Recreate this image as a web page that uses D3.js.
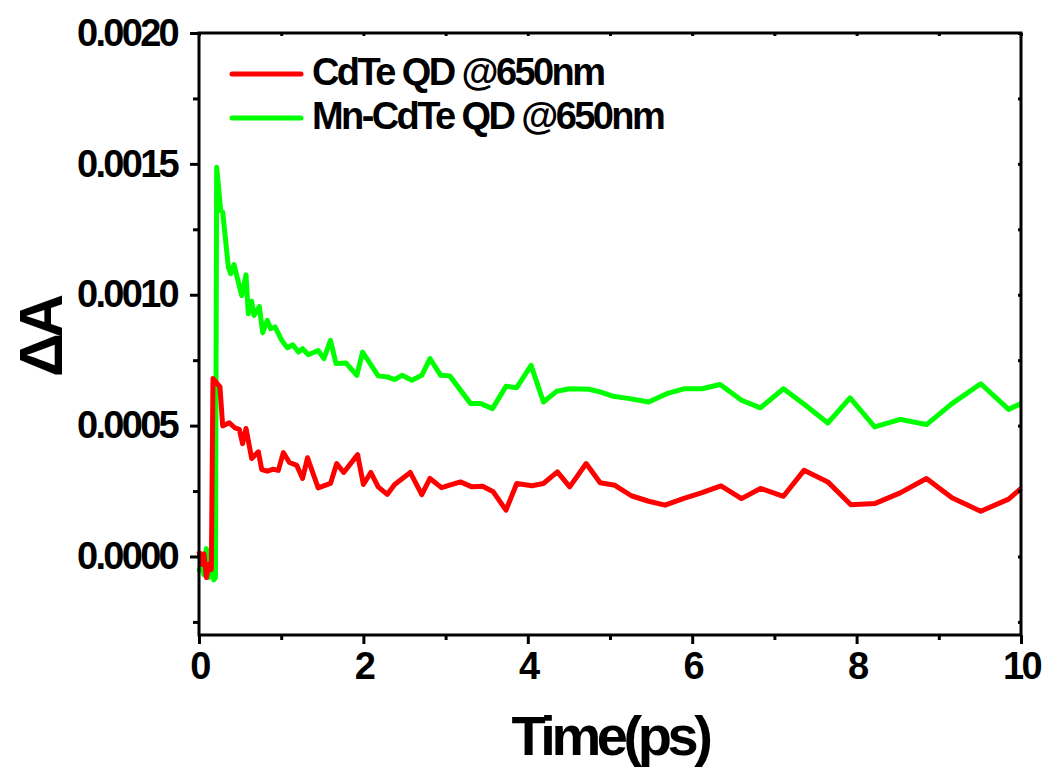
<!DOCTYPE html>
<html lang="en">
<head>
	<meta charset="utf-8">
	<title>Transient absorption</title>
	<script src="https://d3js.org/d3.v7.min.js"></script>
	<style>
		body { margin: 0; background: #fff; }
		text { font-family: "Liberation Sans", Arial, sans-serif; font-weight: bold; }
	</style>
</head>
<body>
	<script>
		// series names and colours
		var seriesNames = ["CdTe QD @650nm", "Mn-CdTe QD @650nm"];
		var seriesColors = ["#ff0000", "#00ff00"];

		// time (ps) and dA
		var cdteTime = [0.0, 0.03, 0.06, 0.09, 0.12, 0.15, 0.17, 0.255, 0.288, 0.369, 0.438, 0.49, 0.53, 0.572, 0.641, 0.722, 0.763,
			0.831, 0.896, 0.965, 1.026, 1.10, 1.19, 1.26, 1.32, 1.45, 1.60, 1.675, 1.76, 1.93, 2.0, 2.09, 2.18, 2.29, 2.38,
			2.57, 2.71, 2.81, 2.95, 3.18, 3.32, 3.45, 3.58, 3.735, 3.865, 4.05, 4.19, 4.36, 4.51, 4.71, 4.88, 5.06, 5.26,
			5.47, 5.67, 5.89, 6.12, 6.35, 6.60, 6.83, 7.11, 7.36, 7.65, 7.93, 8.22, 8.53, 8.85, 9.16, 9.51, 9.85, 10.0];
		var cdteValue = [0.00002, -0.00003, 0.00001, -0.00008, -0.00003, -0.00005, 0.00068, 0.000648, 0.000499, 0.000511, 0.000491, 0.000486, 0.000431, 0.000489, 0.000374, 0.0004, 0.000332,
			0.000326, 0.000333, 0.000329, 0.000397, 0.000359, 0.000348, 0.000298, 0.000377, 0.000262, 0.000279, 0.000355, 0.000321, 0.000389, 0.000275, 0.000321, 0.000266, 0.000237, 0.000275,
			0.000321, 0.000236, 0.000298, 0.000263, 0.000285, 0.000266, 0.000268, 0.000247, 0.000177, 0.000279, 0.00027, 0.000279, 0.000323, 0.000266, 0.000355, 0.000282, 0.000272, 0.000232,
			0.000211, 0.000196, 0.000221, 0.000244, 0.00027, 0.000221, 0.00026, 0.00023, 0.000329, 0.000285, 0.000198, 0.000202, 0.000243, 0.000298, 0.000224, 0.000173, 0.000219, 0.00026];

		var mnTime = [0.0, 0.03, 0.06, 0.09, 0.12, 0.15, 0.18, 0.2, 0.215, 0.264, 0.288, 0.357, 0.385, 0.426, 0.52, 0.572, 0.6, 0.641, 0.669, 0.734,
			0.775, 0.831, 0.872, 0.925, 1.006, 1.075, 1.14, 1.21, 1.26, 1.33, 1.45, 1.52, 1.60, 1.667, 1.79, 1.92, 1.99, 2.18,
			2.29, 2.38, 2.47, 2.59, 2.71, 2.81, 2.94, 3.05, 3.305, 3.43, 3.57, 3.735, 3.865, 4.04, 4.19, 4.35, 4.51, 4.74,
			4.88, 5.04, 5.24, 5.47, 5.69, 5.91, 6.12, 6.34, 6.60, 6.83, 7.11, 7.37, 7.65, 7.92, 8.22, 8.53, 8.85, 9.16,
			9.51, 9.85, 10.0];
		var mnValue = [-0.00006, -0.00002, -0.00007, 0.00003, -0.00008, 0.00001, -0.00009, -0.00008, 0.001487, 0.001322, 0.001316, 0.001106, 0.00108, 0.001115, 0.000997, 0.001076, 0.000927, 0.000975, 0.000921, 0.000955,
			0.000855, 0.000902, 0.00087, 0.000877, 0.000826, 0.000797, 0.000809, 0.000781, 0.000794, 0.000771, 0.000787, 0.000756, 0.000826, 0.000737, 0.000739, 0.000692, 0.000781, 0.00069,
			0.000686, 0.000676, 0.000692, 0.000673, 0.000692, 0.000756, 0.000692, 0.00069, 0.000584, 0.000584, 0.000565, 0.00065, 0.000645, 0.00073, 0.00059, 0.000631, 0.000641, 0.000639,
			0.000629, 0.000612, 0.000603, 0.00059, 0.000622, 0.000641, 0.000641, 0.000657, 0.000597, 0.000568, 0.000641, 0.00058, 0.00051, 0.000606, 0.000495, 0.000524, 0.000504, 0.000584,
			0.00066, 0.000562, 0.000584];

		// axis ticks
		var xTicks = [0, 2, 4, 6, 8, 10];
		var xMinor = [1, 3, 5, 7, 9];
		var yTicks = [0, 0.0005, 0.001, 0.0015, 0.002];
		var yMinor = [-0.00025, 0.00025, 0.00075, 0.00125, 0.00175];

		var W = 1045, H = 769;
		var margin = {top: 33, right: 24, bottom: 134, left: 199};

		var svg = d3.select("body").append("svg")
			.attr("width", W)
			.attr("height", H);

		var x = d3.scaleLinear().domain([0, 10]).range([margin.left, W - margin.right]);
		var y = d3.scaleLinear().domain([-0.0003, 0.002]).range([H - margin.bottom, margin.top]);

		var series = [
			{name: seriesNames[0], color: seriesColors[0], pts: cdteTime.map(function(t, i) { return [t, cdteValue[i]]; })},
			{name: seriesNames[1], color: seriesColors[1], pts: mnTime.map(function(t, i) { return [t, mnValue[i]]; })}
		];

		var line = d3.line()
			.x(function(d) { return x(d[0]); })
			.y(function(d) { return y(d[1]); });

		// data lines (green first so red sits on top near zero)
		svg.selectAll("path.series")
			.data([series[1], series[0]])
			.enter()
			.append("path")
			.attr("class", "series")
			.attr("d", function(d) { return line(d.pts); })
			.attr("fill", "none")
			.attr("stroke", function(d) { return d.color; })
			.attr("stroke-width", 5)
			.attr("stroke-linejoin", "round");

		// bottom axis
		var xAxis = svg.append("g")
			.attr("transform", "translate(0," + (H - margin.bottom) + ")")
			.call(d3.axisBottom(x).tickValues(xTicks).tickSize(9).tickPadding(8).tickFormat(d3.format("d")));
		svg.append("g")
			.attr("transform", "translate(0," + (H - margin.bottom) + ")")
			.call(d3.axisBottom(x).tickValues(xMinor).tickSize(5).tickFormat(""));

		// left axis
		var yAxis = svg.append("g")
			.attr("transform", "translate(" + margin.left + ",0)")
			.call(d3.axisLeft(y).tickValues(yTicks).tickSize(9).tickPadding(13).tickFormat(d3.format(".4f")));
		svg.append("g")
			.attr("transform", "translate(" + margin.left + ",0)")
			.call(d3.axisLeft(y).tickValues(yMinor).tickSize(6).tickFormat(""));

		// mirror axes with small inward ticks
		svg.append("g")
			.attr("transform", "translate(0," + margin.top + ")")
			.call(d3.axisBottom(x).tickValues(xTicks.concat(xMinor)).tickSize(3).tickFormat(""));
		svg.append("g")
			.attr("transform", "translate(" + (W - margin.right) + ",0)")
			.call(d3.axisLeft(y).tickValues(yTicks.concat(yMinor)).tickSize(3).tickFormat(""));

		svg.selectAll(".domain").remove();
		svg.selectAll(".tick line").attr("stroke", "#000").attr("stroke-width", 3);
		svg.selectAll(".tick text")
			.attr("fill", "#000")
			.style("font-size", "38px")
			.style("letter-spacing", "-2.7px");

		// frame
		svg.append("rect")
			.attr("x", margin.left)
			.attr("y", margin.top)
			.attr("width", W - margin.left - margin.right)
			.attr("height", H - margin.top - margin.bottom)
			.attr("fill", "none")
			.attr("stroke", "#000")
			.attr("stroke-width", 3);

		// legend
		var legend = svg.selectAll("g.legend")
			.data(series)
			.enter()
			.append("g")
			.attr("class", "legend")
			.attr("transform", function(d, i) { return "translate(232," + (74 + i * 44) + ")"; });
		legend.append("line")
			.attr("x1", 0).attr("x2", 69)
			.attr("stroke", function(d) { return d.color; })
			.attr("stroke-width", 5)
			.attr("stroke-linecap", "round");
		legend.append("text")
			.attr("x", 80)
			.attr("y", 11)
			.style("font-size", "38px")
			.style("letter-spacing", "-2.6px")
			.attr("fill", "#000")
			.text(function(d) { return d.name; });

		// axis titles
		svg.append("text")
			.attr("x", (margin.left + W - margin.right) / 2)
			.attr("y", 755)
			.attr("text-anchor", "middle")
			.style("font-size", "56px")
			.style("letter-spacing", "-4.4px")
			.attr("fill", "#000")
			.text("Time(ps)");

		svg.append("text")
			.attr("transform", "translate(62,338) rotate(-90)")
			.attr("text-anchor", "middle")
			.style("font-size", "61px")
			.style("letter-spacing", "-5px")
			.attr("fill", "#000")
			.text("ΔA");
	</script>
</body>
</html>
